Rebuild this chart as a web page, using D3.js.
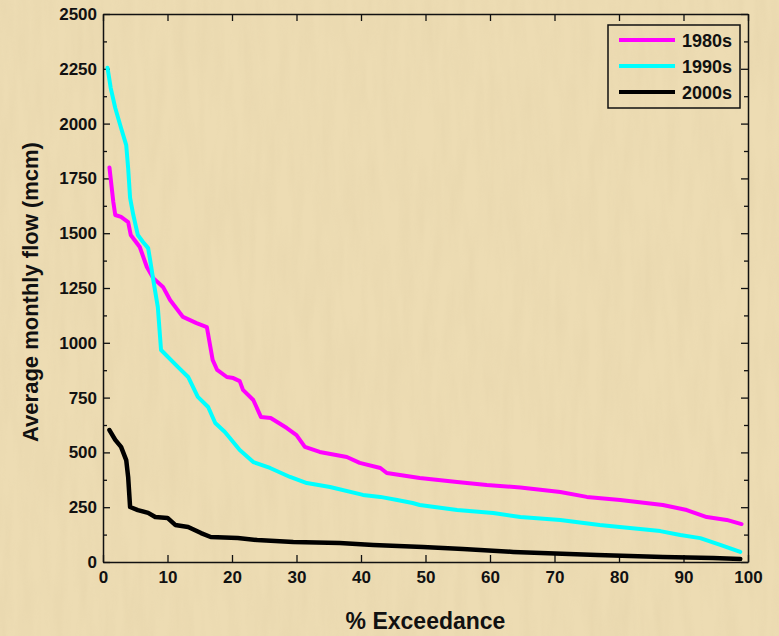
<!DOCTYPE html>
<html>
<head>
<meta charset="utf-8">
<script src="https://cdn.jsdelivr.net/npm/d3@7"></script>
<style>
  body { margin: 0; background: #ebd9ae; }
  text { font-family: "Liberation Sans", Arial, sans-serif; font-weight: bold; fill: #111; }
</style>
</head>
<body>
<script>
'use strict';

// 1980s flow duration curve (% exceedance, flow in mcm)
const pct1980s = [1, 1.6, 1.9, 2.8, 3.9, 4.3, 5.7, 6.8, 7.8, 9.3, 10.4, 12.4, 14.5, 16.1, 17.0, 17.7, 19.2, 20.2, 21.2, 21.7, 23.3, 24.5, 26.0, 28.5, 30.0, 31.3, 33.6, 37.8, 39.8, 43.0, 44.0, 49.1, 54.9, 59.5, 64.7, 70.9, 75.0, 80.2, 86.8, 90.5, 93.6, 96.7, 99];
const flow1980s = [1800, 1642, 1583, 1574, 1551, 1492, 1437, 1346, 1295, 1255, 1195, 1118, 1090, 1072, 922, 876, 844, 839, 825, 785, 739, 661, 657, 611, 579, 525, 502, 479, 452, 429, 406, 383, 365, 351, 340, 319, 297, 283, 260, 237, 205, 192, 173];

// 1990s
const pct1990s = [0.7, 1.2, 1.9, 2.8, 3.6, 3.9, 4.2, 4.7, 5.4, 6.2, 7.0, 7.3, 7.8, 8.5, 9.0, 11.6, 13.2, 14.7, 16.3, 17.4, 18.9, 21.2, 23.3, 25.9, 29.0, 31.6, 35.2, 40.3, 43.0, 45.6, 48.0, 49.1, 54.9, 60.5, 64.7, 70.9, 77.0, 81.7, 86.4, 89.5, 92.6, 95.7, 98.8];
const flow1990s = [2255, 2162, 2071, 1980, 1902, 1797, 1661, 1583, 1492, 1460, 1432, 1378, 1286, 1163, 967, 890, 844, 753, 707, 634, 593, 511, 456, 429, 388, 360, 342, 306, 297, 283, 269, 260, 237, 224, 205, 192, 169, 155, 141, 123, 109, 78, 46];

// 2000s
const pct2000s = [1.0, 1.9, 2.8, 3.6, 3.9, 4.2, 5.4, 7.0, 8.1, 10.0, 11.2, 13.2, 15.2, 16.7, 20.9, 23.9, 29.5, 36.7, 41.9, 49.6, 55.8, 63.6, 76.6, 86.8, 94.6, 98.8];
const flow2000s = [602, 557, 525, 465, 388, 251, 237, 224, 205, 201, 169, 160, 132, 114, 109, 100, 91, 87, 78, 68, 59, 46, 32, 23, 18, 14];

const seriesNames = ["1980s", "1990s", "2000s"];
const seriesColors = ["#ff00ff", "#00ffff", "#000000"];
const xTicks = [0, 10, 20, 30, 40, 50, 60, 70, 80, 90, 100];
const yTicks = [0, 250, 500, 750, 1000, 1250, 1500, 1750, 2000, 2250, 2500];

(function() {

  window.onload = function() {
    let width = 779, height = 636;
    let plot = {left: 103, right: 748, top: 14, bottom: 562};

    let svg = d3.select('body')
      .append('svg')
      .attr('width', width)
      .attr('height', height);

    // parchment-ish background with fine fibre streaks
    let defs = svg.append('defs');
    let filter = defs.append('filter')
      .attr('id', 'paper')
      .attr('x', 0).attr('y', 0).attr('width', '100%').attr('height', '100%');
    filter.append('feTurbulence')
      .attr('type', 'fractalNoise')
      .attr('baseFrequency', '0.09 0.012')
      .attr('numOctaves', 3)
      .attr('seed', 7);
    filter.append('feColorMatrix')
      .attr('type', 'matrix')
      .attr('values', '0 0 0 0 0.66  0 0 0 0 0.54  0 0 0 0 0.32  0.9 0 0 0 -0.3');

    svg.append('rect')
      .attr('width', width)
      .attr('height', height)
      .attr('fill', '#eddcb3');
    svg.append('rect')
      .attr('width', width)
      .attr('height', height)
      .attr('filter', 'url(#paper)')
      .attr('opacity', 0.3);

    let x = d3.scaleLinear().domain([0, 100]).range([plot.left, plot.right]);
    let y = d3.scaleLinear().domain([0, 2500]).range([plot.bottom, plot.top]);

    let tickFont = g => g.selectAll('text')
      .style('font-size', '17px')
      .style('font-family', '"Liberation Sans", Arial, sans-serif')
      .style('font-weight', 'bold')
      .attr('fill', '#111');

    // minor ticks on y (every 125)
    let minorY = d3.range(125, 2500, 250);
    svg.append('g')
      .attr('transform', 'translate(' + plot.left + ',0)')
      .call(d3.axisLeft(y).tickValues(minorY).tickSize(-4).tickFormat(''))
      .call(g => g.select('.domain').remove());
    svg.append('g')
      .attr('transform', 'translate(' + plot.right + ',0)')
      .call(d3.axisRight(y).tickValues(minorY).tickSize(-4).tickFormat(''))
      .call(g => g.select('.domain').remove());

    // left axis
    svg.append('g')
      .attr('transform', 'translate(' + plot.left + ',0)')
      .call(d3.axisLeft(y).tickValues(yTicks).tickFormat(d3.format('d'))
        .tickSize(-7).tickPadding(6).tickSizeOuter(0))
      .call(tickFont);

    // right axis, ticks only
    svg.append('g')
      .attr('transform', 'translate(' + plot.right + ',0)')
      .call(d3.axisRight(y).tickValues(yTicks).tickSize(-7).tickFormat('').tickSizeOuter(0));

    // bottom axis
    svg.append('g')
      .attr('transform', 'translate(0,' + plot.bottom + ')')
      .call(d3.axisBottom(x).tickValues(xTicks).tickFormat(d3.format('d'))
        .tickSize(-7).tickPadding(9).tickSizeOuter(0))
      .call(tickFont);

    // top axis, ticks only
    svg.append('g')
      .attr('transform', 'translate(0,' + plot.top + ')')
      .call(d3.axisTop(x).tickValues(xTicks).tickSize(-7).tickFormat('').tickSizeOuter(0));

    svg.selectAll('.domain').attr('stroke', '#111').attr('stroke-width', 1.5);
    svg.selectAll('.tick line').attr('stroke', '#111').attr('stroke-width', 1.3);

    // the curves
    let series = [
      {name: seriesNames[0], color: seriesColors[0], pct: pct1980s, flow: flow1980s},
      {name: seriesNames[1], color: seriesColors[1], pct: pct1990s, flow: flow1990s},
      {name: seriesNames[2], color: seriesColors[2], pct: pct2000s, flow: flow2000s}
    ];

    let line = d3.line()
      .x(d => x(d[0]))
      .y(d => y(d[1]));

    series.forEach(s => {
      svg.append('path')
        .datum(d3.zip(s.pct, s.flow))
        .attr('fill', 'none')
        .attr('stroke', s.color)
        .attr('stroke-width', s.name === '2000s' ? 4.5 : 4)
        .attr('stroke-linejoin', 'round')
        .attr('stroke-linecap', 'round')
        .attr('d', line);
    });

    // legend
    let legend = svg.append('g');
    legend.append('rect')
      .attr('x', 608)
      .attr('y', 25)
      .attr('width', 132)
      .attr('height', 83)
      .attr('fill', 'none')
      .attr('stroke', '#111')
      .attr('stroke-width', 1.5);

    series.forEach((s, i) => {
      let ly = 40 + i * 26;
      legend.append('line')
        .attr('x1', 619).attr('x2', 675)
        .attr('y1', ly).attr('y2', ly)
        .attr('stroke', s.color)
        .attr('stroke-width', 4);
      legend.append('text')
        .attr('x', 682)
        .attr('y', ly + 6.5)
        .style('font-size', '18px')
        .text(s.name);
    });

    // axis titles
    svg.append('text')
      .attr('x', (plot.left + plot.right) / 2)
      .attr('y', 629)
      .attr('text-anchor', 'middle')
      .style('font-size', '23px')
      .text('% Exceedance');

    svg.append('text')
      .attr('transform', 'translate(38,' + 292 + ')rotate(-90)')
      .attr('text-anchor', 'middle')
      .style('font-size', '22px')
      .text('Average monthly flow (mcm)');
  };
})();
</script>
</body>
</html>
